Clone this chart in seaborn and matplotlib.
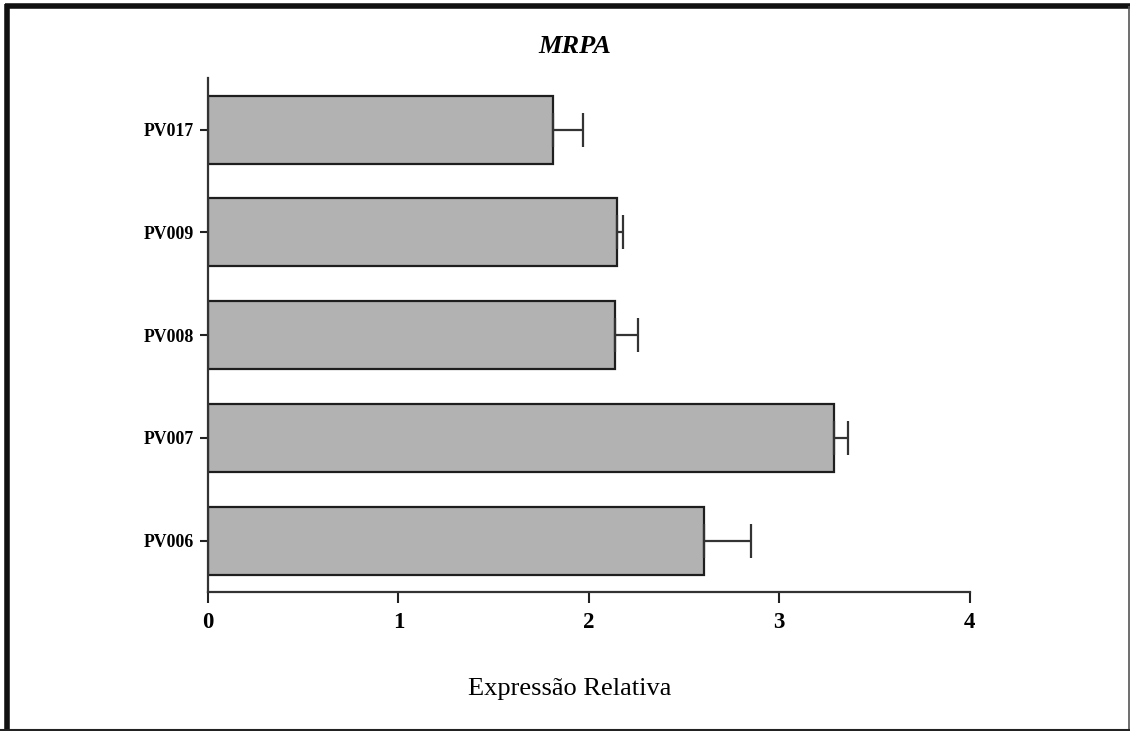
import matplotlib
matplotlib.use("Agg")
import matplotlib.pyplot as plt
import seaborn as sns
import pandas as pd
from matplotlib.lines import Line2D

# Datos
amostras = ["PV017", "PV009", "PV008", "PV007", "PV006"]
expressao = [1.81, 2.15, 2.14, 3.29, 2.605]
erro = [0.16, 0.03, 0.12, 0.07, 0.245]
x_ticks = [0, 1, 2, 3, 4]

df = pd.DataFrame({"amostra": amostras, "expressao": expressao})

sns.set_style("white")
plt.rcParams['font.family'] = ['Liberation Serif', 'DejaVu Serif']
plt.rcParams['text.color'] = 'black'
plt.rcParams['xtick.color'] = 'black'
plt.rcParams['ytick.color'] = 'black'
plt.rcParams['axes.labelcolor'] = 'black'

fig = plt.figure(figsize=(11.3, 7.31), dpi=100)
ax = fig.add_axes([0.184, 0.190, 0.674, 0.703])

sns.barplot(data=df, x="expressao", y="amostra", orient="h", color="#b2b2b2",
            saturation=1, edgecolor="#1e1e1e", linewidth=1.6, width=0.66, ax=ax)

ax.errorbar(expressao, range(len(amostras)), xerr=[[0] * len(erro), erro],
            fmt="none", ecolor="#333333", elinewidth=1.6, capsize=12.5, capthick=1.6)

ax.set_xlim(0, 4)
ax.set_ylim(4.5, -0.5)
ax.set_xticks(x_ticks)
ax.set_xticklabels([str(t) for t in x_ticks], fontsize=16.5, fontweight="bold")
for lab in ax.get_yticklabels():
    lab.set_fontsize(12.8)
    lab.set_fontweight("bold")
ax.tick_params(axis="x", length=8, width=1.5, color="#222222", pad=6, bottom=True)
ax.tick_params(axis="y", length=6, width=1.5, color="#222222", pad=4, left=True)
for s in ["top", "right"]:
    ax.spines[s].set_visible(False)
for s in ["left", "bottom"]:
    ax.spines[s].set_linewidth(1.6)
    ax.spines[s].set_color("#333333")

ax_h = 0.703 * 731
ax.set_ylabel("")
ax.set_xlabel("Expressão Relativa", fontsize=19)
ax.xaxis.label.set_va("baseline")
ax.xaxis.set_label_coords(0.475, (592 - 695) / ax_h)
ax.set_title("MRPA", fontsize=19, fontweight="bold", fontstyle="italic",
             x=0.482, y=(592 - 53) / ax_h, pad=0)

# Moldura da figura
fig.add_artist(Line2D([0.0066, 0.0066], [0.0, 0.995], transform=fig.transFigure,
                      color="#111111", lw=4, solid_capstyle="butt"))
fig.add_artist(Line2D([0.0045, 1.0], [0.992, 0.992], transform=fig.transFigure,
                      color="#111111", lw=4, solid_capstyle="butt"))
fig.add_artist(Line2D([0.999, 0.999], [0.0, 0.992], transform=fig.transFigure,
                      color="#555555", lw=1.2, solid_capstyle="butt"))
fig.add_artist(Line2D([0.0, 1.0], [0.0015, 0.0015], transform=fig.transFigure,
                      color="#222222", lw=1.5, solid_capstyle="butt"))

fig.savefig("out.png", dpi=100, facecolor="white")
